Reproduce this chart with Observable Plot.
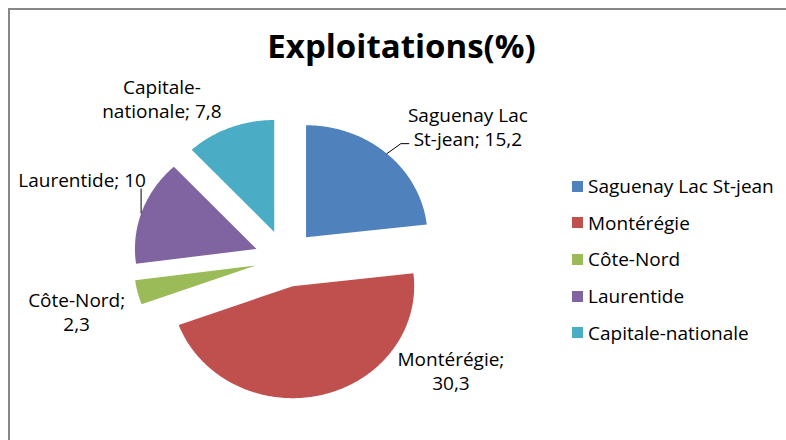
<!DOCTYPE html>
<html><head><meta charset="utf-8">
<script src="https://cdn.jsdelivr.net/npm/d3@7"></script>
<script src="https://cdn.jsdelivr.net/npm/@observablehq/plot@0.6"></script>
<style>
body{margin:0;background:#fff;}
#wrap{position:relative;width:786px;height:440px;overflow:hidden;font-family:"Open Sans",Lato,sans-serif;background:#fff;}
#border{position:absolute;left:8px;top:8px;width:900px;height:700px;border-left:2px solid #878787;border-top:2px solid #878787;pointer-events:none;}
#chart{position:absolute;left:0;top:0;}
#legend{position:absolute;left:572px;top:168px;}
.row{display:flex;align-items:center;height:36.6px;font-size:19px;color:#000;white-space:nowrap;}
.sw{width:11px;height:11px;margin-right:5px;flex:none;}
</style>
</head><body>
<div id="wrap"><div id="chart"></div><div id="legend"></div><div id="border"></div></div>
<script>
// ---- data ----
const title = "Exploitations(%)";
const regions = ["Saguenay Lac St-jean", "Montérégie", "Côte-Nord", "Laurentide", "Capitale-nationale"];
const values = [15.2, 30.3, 2.3, 10, 7.8];
const colors = ["#4F81BD", "#C0504D", "#9BBB59", "#8064A2", "#4BACC6"];

// ---- layout (pixels) ----
const W = 786, H = 440;
const layout = {cx: 285, cy: 258, kx: 121.5, ky: 112, explode: 0.254};
const labelLayout = [
  {dx: 81, dy: -27, wrap: 14, leader: [[0, 0], [14, -10], [22, -10]]},
  {dx: 130, dy: -25, wrap: 14, leader: null},
  {dx: -61, dy: 19, wrap: 10, leader: null},
  {dx: -60, dy: -32, wrap: 16, leader: [[-1, 2], [-1, -22]]},
  {dx: -68, dy: -29, wrap: 14, leader: null}
];

const fmt = v => String(v).replace(".", ",");
function wrap(text, max) {
  const tokens = text.match(/[^\s-]+-?\s*|\s+/g);
  const lines = []; let cur = "";
  for (const t of tokens) {
    if (cur && (cur + t).trimEnd().length > max) { lines.push(cur.trimEnd()); cur = t; }
    else cur += t;
  }
  if (cur) lines.push(cur.trimEnd());
  return lines.join("\n");
}

const arcs = d3.pie().sort(null).value(d => d)(values);
const {cx, cy, kx, ky, explode} = layout;

const slicePts = [];
const labels = [];
const leaders = [];
arcs.forEach((a, i) => {
  const m = (a.startAngle + a.endAngle) / 2;
  const ox = explode * Math.sin(m), oy = explode * Math.cos(m);
  slicePts.push({name: regions[i], x: ox, y: oy});
  const n = Math.max(2, Math.ceil((a.endAngle - a.startAngle) / 0.01));
  for (let k = 0; k <= n; k++) {
    const t = a.startAngle + (a.endAngle - a.startAngle) * k / n;
    slicePts.push({name: regions[i], x: ox + Math.sin(t), y: oy + Math.cos(t)});
  }
  const r = 1 + explode;
  const ax = r * Math.sin(m), ay = r * Math.cos(m);
  const L = labelLayout[i];
  labels.push({x: ax + L.dx / kx, y: ay - L.dy / ky, text: wrap(`${regions[i]}; ${fmt(values[i])}`, L.wrap)});
  if (L.leader) L.leader.forEach(([px, py]) => leaders.push({id: i, x: ax + px / kx, y: ay - py / ky}));
});

const plot = Plot.plot({
  width: W, height: H,
  margin: 0,
  x: {domain: [-cx / kx, (W - cx) / kx], axis: null},
  y: {domain: [-(H - cy) / ky, cy / ky], axis: null},
  color: {domain: regions, range: colors},
  style: {fontFamily: "'Open Sans', Lato, sans-serif", background: "transparent", overflow: "visible"},
  marks: [
    Plot.line(slicePts, {x: "x", y: "y", z: "name", fill: "name", stroke: "none", curve: "linear-closed"}),
    Plot.line(leaders, {x: "x", y: "y", z: "id", stroke: "#000", strokeWidth: 1}),
    Plot.text(labels, {x: "x", y: "y", text: "text", fontSize: 19, lineHeight: 1.26, fill: "#000", textAnchor: "middle", lineAnchor: "middle"}),
    Plot.text([title], {frameAnchor: "top", dx: 8, dy: 47, text: d => d, fontSize: 33, fontWeight: "bold", fill: "#000", lineAnchor: "middle"})
  ]
});
document.getElementById("chart").appendChild(plot);

const leg = document.getElementById("legend");
regions.forEach((r, i) => {
  const row = document.createElement("div");
  row.className = "row";
  row.innerHTML = `<span class="sw" style="background:${colors[i]}"></span><span>${r}</span>`;
  leg.appendChild(row);
});
</script>
</body></html>
